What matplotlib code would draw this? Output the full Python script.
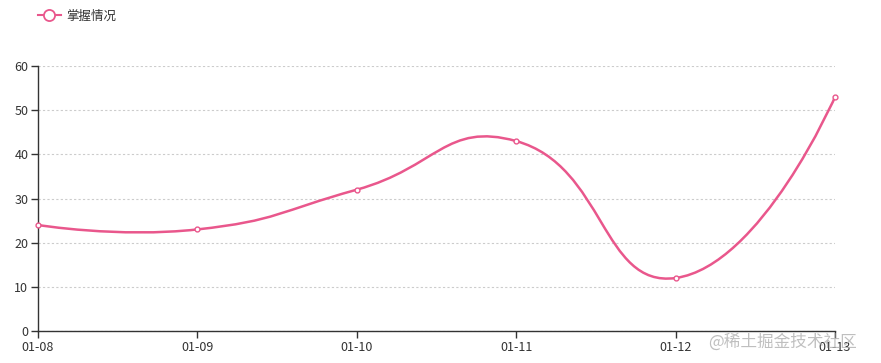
import numpy as np
import matplotlib
matplotlib.use("Agg")
import matplotlib.pyplot as plt
from matplotlib.path import Path
from matplotlib.patches import PathPatch
from matplotlib.lines import Line2D

plt.rcParams['font.family'] = ['Noto Sans CJK SC', 'DejaVu Sans']

categories = ["01-08", "01-09", "01-10", "01-11", "01-12", "01-13"]
values = [24, 23, 32, 43, 12, 53]
series_name = "掌握情况"
y_ticks = [0, 10, 20, 30, 40, 50, 60]

color = '#e9578c'
text_color = '#333333'

fig = plt.figure(figsize=(8.81, 3.63), dpi=100)
ax = fig.add_axes([38/881, 32/363, (835-38)/881, (331-66)/363])
x = np.arange(len(categories))
ax.set_xlim(0, len(categories)-1)
ax.set_ylim(0, 60)
ax.set_xticks(x)
ax.set_xticklabels(categories)
ax.set_yticks(y_ticks)

for s in ['top', 'right']:
    ax.spines[s].set_visible(False)
for s in ['left', 'bottom']:
    ax.spines[s].set_color(text_color)
    ax.spines[s].set_linewidth(1)
ax.tick_params(axis='both', colors=text_color, labelsize=9, length=5, width=1, pad=2,
               labelcolor=text_color)
ax.yaxis.grid(True, color='#cccccc', linestyle=(0, (2, 2)), linewidth=0.8)
ax.set_axisbelow(True)

# echarts-like smooth bezier in pixel space
fig.canvas.draw()
pts = ax.transData.transform(np.column_stack([x, values]))
smooth = 0.5
n = len(pts)
cps = []
for i in range(n):
    if i == 0 or i == n - 1:
        cps.append(pts[i].copy())
        continue
    prev, nxt, p = pts[i-1], pts[i+1], pts[i]
    v = (nxt - prev) * smooth
    d0 = np.linalg.norm(p - prev)
    d1 = np.linalg.norm(p - nxt)
    s = d0 + d1
    d0 /= s
    d1 /= s
    cps.append(p - v * d0)
    cps.append(p + v * d1)
verts = [pts[0]]
codes = [Path.MOVETO]
for i in range(n - 1):
    verts += [cps[2*i], cps[2*i+1], pts[i+1]]
    codes += [Path.CURVE4] * 3
verts = ax.transData.inverted().transform(np.array(verts))
path = Path(verts, codes)
ax.add_patch(PathPatch(path, facecolor='none', edgecolor=color, linewidth=1.8, clip_on=False, zorder=3))
ax.plot(x, values, linestyle='none', marker='o', markersize=3.5, markerfacecolor='white',
        markeredgecolor=color, markeredgewidth=1, clip_on=False, zorder=4)

# legend
handle = Line2D([], [], color=color, linewidth=1.5, marker='o', markersize=8,
                markerfacecolor='white', markeredgecolor=color, markeredgewidth=1.3)
leg = fig.legend([handle], [series_name], loc='center left', bbox_to_anchor=(38/881, 1 - 16/363),
                 frameon=False, fontsize=9, handlelength=1.8, handletextpad=0.5, borderpad=0,
                 borderaxespad=0)
for t in leg.get_texts():
    t.set_color(text_color)

# watermark
fig.text(708/881, 1 - 342/363, "@稀土掘金技术社区", fontsize=12, color='#b0b0b0', alpha=0.8,
         va='center', ha='left')

fig.savefig('out.png', dpi=100)
